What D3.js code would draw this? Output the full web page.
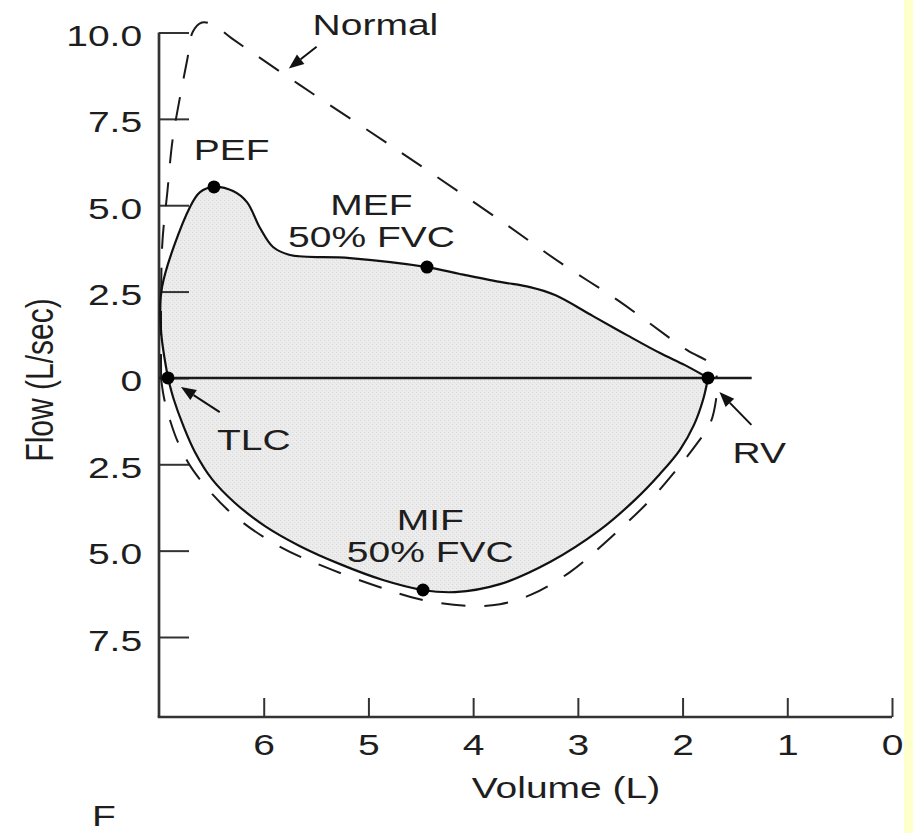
<!DOCTYPE html>
<html>
<head>
<meta charset="utf-8">
<script src="https://cdn.jsdelivr.net/npm/d3@7"></script>
<style>
  html, body { margin: 0; padding: 0; background: #fff; }
  svg { display: block; }
  text { font-family: "Liberation Sans", Arial, Helvetica, sans-serif; fill: #1e1e1e; }
</style>
</head>
<body>
<svg id="chart" width="913" height="833"></svg>
<script>
// Flow-volume loop: [volume (L), flow (L/sec)]; expiratory flow positive, inspiratory negative.
const patientExpiration = [
  [6.914, 0], [6.981, 1.39], [6.971, 2.63], [6.704, 4.95], [6.608, 5.38], [6.475, 5.53],
  [6.293, 5.41], [6.16, 5.09], [6.035, 4.34], [5.911, 3.79], [5.749, 3.56], [5.176, 3.47],
  [4.441, 3.21], [4.126, 3.01], [3.744, 2.78], [3.457, 2.63], [3.218, 2.40], [2.855, 1.79],
  [2.531, 1.24], [2.215, 0.72], [1.977, 0.37], [1.757, 0]
];
const patientInspiration = [
  [6.914, 0], [6.857, -0.64], [6.771, -1.36], [6.656, -2.15], [6.494, -2.93], [6.274, -3.62],
  [5.988, -4.29], [5.653, -4.87], [5.271, -5.39], [4.861, -5.85], [4.479, -6.14], [4.173, -6.20],
  [3.744, -5.97], [3.266, -5.33], [2.789, -4.40], [2.455, -3.53], [2.216, -2.78], [2.025, -2.08],
  [1.891, -1.36], [1.805, -0.64], [1.757, 0]
];
const normalExpiration = [
  [6.98, 0], [6.97, 3.80], [6.92, 5.39], [6.87, 6.90], [6.80, 8.12], [6.73, 9.22],
  [6.676, 10.03], [6.59, 10.29], [6.486, 10.23], [6.305, 9.83], [5.66, 8.49], [4.70, 6.55],
  [3.75, 4.58], [3.15, 3.30], [2.61, 2.23], [1.96, 0.81], [1.733, 0.41], [1.671, 0]
];
const normalInspiration = [
  [6.981, 0], [6.952, -0.58], [6.895, -1.22], [6.819, -1.86], [6.675, -2.67], [6.322, -3.88],
  [5.873, -4.84], [5.434, -5.45], [4.918, -6.03], [4.479, -6.43], [4.03, -6.60], [3.744, -6.55],
  [3.457, -6.29], [3.075, -5.62], [2.693, -4.64], [2.311, -3.54], [2.063, -2.67], [1.872, -1.94],
  [1.738, -1.33], [1.681, -0.64], [1.671, 0]
];
// Marked points on the measured loop
const keyPoints = [
  [6.914, 0],      // TLC
  [6.475, 5.53],   // PEF
  [4.441, 3.21],   // MEF 50% FVC
  [4.479, -6.14],  // MIF 50% FVC
  [1.757, 0]       // RV
];
const volumeTicks = [6, 5, 4, 3, 2, 1, 0];
const flowTicks = [10, 7.5, 5, 2.5, 0, -2.5, -5, -7.5];
const flowTickLabels = ["10.0", "7.5", "5.0", "2.5", "0", "2.5", "5.0", "7.5"];
// Annotations: [text, volume, flow]
const annotations = [
  ["Normal", 4.933, 9.93],
  ["PEF", 6.305, 6.32],
  ["MEF", 4.971, 4.72],
  ["50% FVC", 4.971, 3.80],
  ["TLC", 6.095, -2.09],
  ["RV", 1.267, -2.46],
  ["MIF", 4.41, -4.40],
  ["50% FVC", 4.41, -5.33]
];
// Arrows: [tail volume, tail flow, head volume, head flow]
const arrows = [
  [5.495, 9.59, 5.76, 8.96],
  [6.42, -0.99, 6.79, -0.26],
  [1.343, -1.36, 1.648, -0.41]
];

const svg = d3.select("#chart");
const SX = 1.3;               // horizontal stretch of the lettering
const FONT = 30;

svg.append("rect").attr("x", 904).attr("y", 0).attr("width", 9).attr("height", 833)
  .attr("fill", "#ffffcc");

const x = d3.scaleLinear().domain([7, 0]).range([159, 892]);
const y = d3.scaleLinear().domain([10, -7.5]).range([32.5, 637]);
const yBottom = 717;

// Stippled grey fill for the measured loop
const defs = svg.append("defs");
const pat = defs.append("pattern").attr("id", "stipple").attr("patternUnits", "userSpaceOnUse")
  .attr("width", 4).attr("height", 4);
pat.append("rect").attr("width", 4).attr("height", 4).attr("fill", "#ebebeb");
pat.append("rect").attr("x", 0).attr("y", 0).attr("width", 1).attr("height", 1).attr("fill", "#d8d8d8");
pat.append("rect").attr("x", 2).attr("y", 2).attr("width", 1).attr("height", 1).attr("fill", "#dcdcdc");
pat.append("rect").attr("x", 3).attr("y", 1).attr("width", 1).attr("height", 1).attr("fill", "#f4f4f4");

const curve = d3.curveCatmullRom.alpha(0.5);
const line = d3.line().x(d => x(d[0])).y(d => y(d[1])).curve(curve);

// Loop area: expiration TLC→RV, then inspiration back RV→TLC
const loop = patientExpiration.concat(patientInspiration.slice().reverse().slice(1));
svg.append("path").attr("d", line(loop) + "Z").attr("fill", "url(#stipple)").attr("stroke", "none");

// Axes
const axisColor = "#333";
svg.append("line").attr("x1", x(7)).attr("x2", x(7)).attr("y1", y(10)).attr("y2", yBottom)
  .attr("stroke", axisColor).attr("stroke-width", 2.7);
svg.append("line").attr("x1", x(7) - 1.3).attr("x2", x(0)).attr("y1", yBottom).attr("y2", yBottom)
  .attr("stroke", axisColor).attr("stroke-width", 2.7);

const xAxis = d3.axisBottom(x).tickValues(volumeTicks).tickSizeInner(-19).tickSizeOuter(0)
  .tickPadding(38).tickFormat(d3.format("d"));
const gx = svg.append("g").attr("transform", `translate(0,${yBottom})`).call(xAxis);
gx.select(".domain").remove();
gx.selectAll(".tick line").attr("stroke", axisColor).attr("stroke-width", 2);
gx.selectAll(".tick text").attr("font-size", FONT).attr("fill", "#1e1e1e")
  .attr("font-family", "Liberation Sans, Arial, sans-serif")
  .attr("dy", 0).attr("y", 38).attr("transform", `scale(${SX},1)`);

const yAxis = d3.axisLeft(y).tickValues(flowTicks).tickSizeInner(-30).tickSizeOuter(0)
  .tickPadding(13).tickFormat((d, i) => flowTickLabels[i]);
const gy = svg.append("g").attr("transform", `translate(${x(7)},0)`).call(yAxis);
gy.select(".domain").remove();
gy.selectAll(".tick line").attr("stroke", axisColor).attr("stroke-width", 2);
gy.selectAll(".tick text").attr("font-size", FONT).attr("fill", "#1e1e1e")
  .attr("font-family", "Liberation Sans, Arial, sans-serif")
  .attr("dy", 0).attr("y", 13).attr("transform", `scale(${SX},1)`);

// Zero-flow line
svg.append("line").attr("x1", x(7)).attr("x2", x(1.34)).attr("y1", y(0)).attr("y2", y(0))
  .attr("stroke", "#1a1a1a").attr("stroke-width", 2.4);

// Normal loop (dashed)
[normalExpiration, normalInspiration].forEach(d => {
  svg.append("path").attr("d", line(d)).attr("fill", "none").attr("stroke", "#1a1a1a")
    .attr("stroke-width", 2).attr("stroke-dasharray", "24,19");
});

// Measured loop outline
[patientExpiration, patientInspiration].forEach(d => {
  svg.append("path").attr("d", line(d)).attr("fill", "none").attr("stroke", "#111")
    .attr("stroke-width", 2.2);
});

// Key point dots
svg.selectAll("circle.key").data(keyPoints).join("circle").attr("class", "key")
  .attr("cx", d => x(d[0])).attr("cy", d => y(d[1])).attr("r", 6.5).attr("fill", "#000");

// Arrows
arrows.forEach(([v0, f0, v1, f1]) => {
  const x0 = x(v0), y0 = y(f0), x1 = x(v1), y1 = y(f1);
  const ang = Math.atan2(y1 - y0, x1 - x0);
  const len = 15, half = 6;
  const bx = x1 - len * Math.cos(ang), by = y1 - len * Math.sin(ang);
  svg.append("line").attr("x1", x0).attr("y1", y0).attr("x2", bx).attr("y2", by)
    .attr("stroke", "#111").attr("stroke-width", 2);
  const p = [
    [x1, y1],
    [bx + half * Math.sin(ang), by - half * Math.cos(ang)],
    [bx - half * Math.sin(ang), by + half * Math.cos(ang)]
  ];
  svg.append("polygon").attr("points", p.map(q => q.join(",")).join(" ")).attr("fill", "#111");
});

// Annotation text
function label(txt, px, py, anchor, extra) {
  return svg.append("text")
    .attr("transform", `translate(${px},${py}) ${extra || ""} scale(${SX},1)`)
    .attr("text-anchor", anchor).attr("font-size", FONT).text(txt);
}
annotations.forEach(([t, v, f]) => label(t, x(v), y(f), "middle"));

// Axis titles and panel letter
label("Volume (L)", 566, 798, "middle");
svg.append("text")
  .attr("transform", `translate(53,380) rotate(-90) scale(1,${SX})`)
  .attr("text-anchor", "middle").attr("font-size", FONT).text("Flow (L/sec)");
label("F", 92, 826, "start");
</script>
</body>
</html>
